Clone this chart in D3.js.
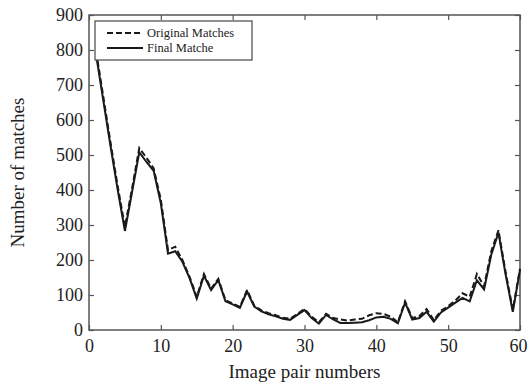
<!DOCTYPE html>
<html>
<head>
<meta charset="utf-8">
<script src="https://cdn.jsdelivr.net/npm/d3@7"></script>
<style>
  body { margin: 0; background: #fff; }
  svg { display: block; font-family: "Liberation Serif", "DejaVu Serif", serif; }
</style>
</head>
<body>
<div id="chart"></div>
<script>
// image pair index 1..60
const pairs = d3.range(1, 61);

const originalMatches = [
  795, 665, 535, 410, 295, 405, 520, 492, 462, 372,
  228, 238, 200, 152, 95, 160, 118, 146, 85, 76,
  66, 114, 70, 56, 48, 42, 35, 32, 46, 60,
  38, 22, 46, 34, 30, 27, 30, 32, 42, 48,
  46, 38, 22, 82, 34, 40, 60, 28, 55, 68,
  84, 105, 95, 160, 125, 225, 285, 165, 58, 175
];

const finalMatches = [
  785, 655, 525, 400, 283, 395, 508, 480, 455, 362,
  218, 225, 195, 148, 90, 155, 114, 143, 82, 73,
  63, 110, 67, 53, 45, 39, 32, 29, 43, 57,
  34, 18, 43, 30, 20, 20, 21, 22, 28, 36,
  38, 32, 19, 78, 30, 34, 52, 24, 50, 64,
  78, 92, 82, 142, 116, 215, 278, 158, 52, 172
];

const xTicks = [0, 10, 20, 30, 40, 50, 60];
const yTicks = [0, 100, 200, 300, 400, 500, 600, 700, 800, 900];
const seriesNames = ["Original Matches", "Final Matche"];

const width = 528, height = 385;
const margin = { top: 15, right: 8, bottom: 55, left: 89 };
const iw = width - margin.left - margin.right;
const ih = height - margin.top - margin.bottom;

const serif = "'Liberation Serif', 'DejaVu Serif', serif";

const svg = d3.select("#chart").append("svg")
  .attr("width", width)
  .attr("height", height);

const g = svg.append("g")
  .attr("transform", `translate(${margin.left},${margin.top})`);

const x = d3.scaleLinear().domain([0, 60]).range([0, iw]);
const y = d3.scaleLinear().domain([0, 900]).range([ih, 0]);

const frameColor = "#555";

// axes with inward ticks (matlab style box)
g.append("g")
  .attr("transform", `translate(0,${ih})`)
  .call(d3.axisBottom(x).tickValues(xTicks).tickSizeInner(-5).tickSizeOuter(0).tickPadding(9));
g.append("g")
  .call(d3.axisLeft(y).tickValues(yTicks).tickSizeInner(-5).tickSizeOuter(0).tickPadding(6));
g.append("g")
  .call(d3.axisTop(x).tickValues(xTicks).tickSizeInner(-5).tickSizeOuter(0).tickFormat(""));
g.append("g")
  .attr("transform", `translate(${iw},0)`)
  .call(d3.axisRight(y).tickValues(yTicks).tickSizeInner(-5).tickSizeOuter(0).tickFormat(""));

g.selectAll("g").attr("font-family", serif).attr("font-size", 18);
g.selectAll(".domain").remove();
g.selectAll(".tick line").attr("stroke", frameColor).attr("stroke-width", 1.2);
g.selectAll(".tick text").attr("fill", "#222");
// keep the last x label inside the picture
g.selectAll(".tick text").filter(d => d === 60).attr("dx", -2);

g.append("rect")
  .attr("width", iw).attr("height", ih)
  .attr("fill", "none")
  .attr("stroke", frameColor)
  .attr("stroke-width", 1.5);

const line = d3.line()
  .x((d, i) => x(pairs[i]))
  .y(d => y(d));

g.append("path")
  .datum(originalMatches)
  .attr("fill", "none")
  .attr("stroke", "#1a1a1a")
  .attr("stroke-width", 2)
  .attr("stroke-dasharray", "6,3")
  .attr("d", line);

g.append("path")
  .datum(finalMatches)
  .attr("fill", "none")
  .attr("stroke", "#1a1a1a")
  .attr("stroke-width", 2)
  .attr("d", line);

// legend
const leg = g.append("g").attr("transform", "translate(6,6)");
leg.append("rect")
  .attr("width", 157).attr("height", 39)
  .attr("fill", "#fff")
  .attr("stroke", frameColor)
  .attr("stroke-width", 1.3);
seriesNames.forEach((name, i) => {
  const ly = 12 + i * 15;
  leg.append("line")
    .attr("x1", 12).attr("x2", 48)
    .attr("y1", ly).attr("y2", ly)
    .attr("stroke", "#1a1a1a")
    .attr("stroke-width", 2)
    .attr("stroke-dasharray", i === 0 ? "6,3" : null);
  leg.append("text")
    .attr("x", 52).attr("y", ly + 4)
    .attr("fill", "#222")
    .attr("font-family", serif)
    .attr("font-size", 12.5)
    .text(name);
});

// axis titles
svg.append("text")
  .attr("x", margin.left + x(30))
  .attr("y", 378)
  .attr("text-anchor", "middle")
  .attr("fill", "#222")
  .attr("font-family", serif)
  .attr("font-size", 19)
  .text("Image pair numbers");

svg.append("text")
  .attr("transform", `translate(24,${margin.top + ih / 2}) rotate(-90)`)
  .attr("text-anchor", "middle")
  .attr("fill", "#222")
  .attr("font-family", serif)
  .attr("font-size", 19)
  .text("Number of matches");
</script>
</body>
</html>
